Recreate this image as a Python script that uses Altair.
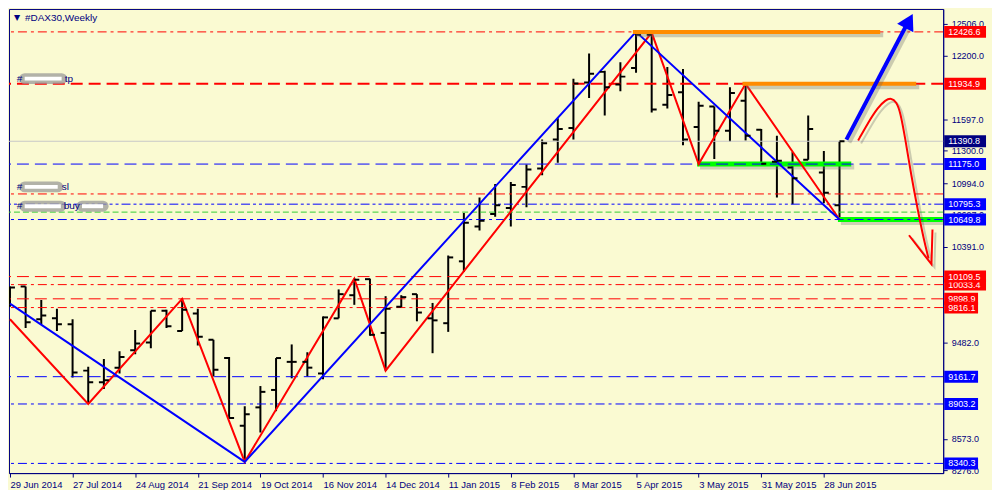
import json
import altair as alt
import pandas as pd

# ---------------- data ----------------
TICK_LABELS = ["29 Jun 2014", "27 Jul 2014", "24 Aug 2014", "21 Sep 2014", "19 Oct 2014",
               "16 Nov 2014", "14 Dec 2014", "11 Jan 2015", "8 Feb 2015", "8 Mar 2015",
               "5 Apr 2015", "3 May 2015", "31 May 2015", "28 Jun 2015"]

OPEN = [9897, 10016, 9705, 9714, 9659, 9219, 9109, 9247, 9412, 9485,
        9787, 9595, 9759, 9512, 9338, 8697, 8871, 9036, 9302, 9302,
        9192, 9714, 9933, 10085, 9576, 9824, 9943, 9714, 9668, 10254,
        10584, 10703, 10758, 10959, 11133, 11408, 11517, 11948, 12048, 11929,
        12085, 12400, 11737, 11856, 11527, 11719, 11490, 11774, 11499, 11197,
        11142, 11215, 11096, 10785]
HIGH = [10016, 10016, 9888, 9805, 9705, 9256, 9329, 9402, 9604, 9787,
        9796, 9898.9, 9805, 9512, 9347, 8881, 9073, 9338, 9467, 9393,
        9732, 9988, 10090, 10090, 9924, 9933, 9943, 9860, 10309, 10712,
        10858, 10986, 11005, 11170, 11408, 11609, 11984, 12222, 12058, 12140,
        12426.6, 12420, 12094, 12076, 11765, 11719, 11902, 11934.9, 11508, 11444,
        11289, 11636, 11298, 11390.8]
LOW = [9823, 9622, 9659, 9595, 9155, 8903.2, 9045, 9192, 9375, 9430,
       9622, 9595, 9457, 9164, 8771, 8355, 8633, 8835, 9146, 9164,
       9137, 9714, 9842, 9549, 9219, 9814, 9686, 9384, 9586, 10153,
       10547, 10675, 10584, 10767, 11069, 11188, 11408, 11801, 11636, 11865,
       12039, 11664, 11701, 11353, 11175, 11224, 11389, 11398, 11160, 10858,
       10794, 11215, 10803, 10649.8]
CLOSE = [10007, 9677, 9741, 9659, 9201, 9109, 9128, 9347, 9476, 9787,
         9640, 9796, 9540, 9228, 8771, 8807, 9018, 9338, 9302, 9247,
         9723, 9943, 10080, 9558, 9805, 9915, 9769, 9695, 10291, 10620,
         10638, 10785, 10977, 11124, 11371, 11508, 11939, 12030, 11902, 12003,
         12400, 11691, 11829, 11408, 11728, 11490, 11847, 11444, 11179, 11206,
         11041, 11508, 10904, 11390.8]

RED_ZZ_WEEK = [0, 5, 11, 15, 22, 24, 41, 44, 47, 53]
RED_ZZ_PRICE = [9705, 8903.2, 9898.9, 8355, 10090, 9219, 12420, 11175, 11934.9, 10649.8]
BLUE_ZZ_WEEK = [0, 15, 40, 53]
BLUE_ZZ_PRICE = [9854, 8355, 12426.6, 10649.8]

LEVEL_PRICES = [12426.6, 11934.9, 11175.0, 10892.0, 10795.3, 10720.0, 10649.8,
                10109.5, 10033.4, 9898.9, 9816.1, 9161.7, 8903.2, 8340.3]
LEVEL_KIND = ["red_dashdot", "red_dash_thick", "blue_dash", "red_dashdot", "blue_dashdotdot",
              "green_dash", "blue_dashdot", "red_dash", "red_dashdot", "red_dash",
              "red_dashdot", "blue_dash", "blue_dashdot", "blue_dashdot"]
BID = 11390.8

TAG_PRICES = [12426.6, 11934.9, 11390.8, 11175.0, 10795.3, 10649.8, 10033.4, 10109.5,
              9898.9, 9816.1, 9161.7, 8903.2, 8340.3]
TAG_KIND = ["red", "red", "navy", "blue", "blue", "blue", "red", "red",
            "red", "red", "blue", "blue", "blue"]

# axis ticks that are not hidden under the price tags
Y_TICKS = [12506.0, 12200.0, 11597.0, 11300.0, 10994.0, 10697.0, 10391.0,
           9482.0, 8573.0, 8276.0]

ORANGE_PRICE = [12426.6, 11934.9]
ORANGE_FROM = [39.8, 46.8]
ORANGE_TO = [55.6, 57.9]
GREEN_PRICE = [11175.0, 10649.8]
GREEN_FROM = [43.9, 52.9]
GREEN_TO = [53.75, 59.6]

BLUE_ARROW_WEEK = [53.44, 57.3]
BLUE_ARROW_PRICE = [11407, 12497]
RED_CURVE_WEEK = [54.19, 54.81, 55.44, 55.94, 56.31, 56.63, 56.88, 57.19, 57.56, 58.0, 58.38, 58.69]
RED_CURVE_PRICE = [11398, 11563, 11710, 11783, 11801, 11765, 11673, 11426, 11087, 10739, 10465, 10281]
RED_HEAD_WEEK = [57.44, 58.875, 58.94]
RED_HEAD_PRICE = [10501, 10226, 10556]

# ---------------- styling ----------------
W, H = 938, 466
BG = "#FAFAD2"
NAVY = "#000080"
FONT = "Liberation Sans"
XS = alt.Scale(domain=[-0.0625, 59.625], nice=False, zero=False)
YS = alt.Scale(domain=[8248.7, 12643.6], nice=False, zero=False)

label_expr = json.dumps(TICK_LABELS) + "[round(datum.value / 4)]"
XAXIS = alt.Axis(values=list(range(0, 53, 4)), labelExpr=label_expr, orient="bottom",
                 tickSize=4, labelAlign="left", labelPadding=2, labelColor=NAVY,
                 tickColor=NAVY, domainColor=NAVY, labelFont=FONT, labelFontSize=9.5,
                 grid=False, title=None, labelFlush=False, labelOverlap=False)
YAXIS = alt.Axis(orient="right", values=Y_TICKS, format=".1f", tickSize=4, labelPadding=4,
                 labelColor=NAVY, tickColor=NAVY, domainColor=NAVY, labelFont=FONT,
                 labelFontSize=9, grid=False, title=None, labelFlush=False,
                 labelOverlap=False, labelBaseline="middle")

LEVEL_STYLE = {
    "red_dashdot": ("#FF0000", [9, 4, 3, 4], 1),
    "red_dash": ("#FF0000", [12, 6], 1),
    "red_dash_thick": ("#FF0000", [12, 6], 2),
    "blue_dash": ("#0000FF", [12, 6], 1),
    "blue_dashdot": ("#0000FF", [9, 4, 3, 4], 1),
    "blue_dashdotdot": ("#0000FF", [9, 3, 3, 3, 3, 3], 1),
    "green_dash": ("#32CD32", [6, 3], 1),
}
TAG_COLOR = {"red": "#FF0000", "blue": "#0000FF", "navy": "#000080"}


def X(field):
    return alt.X(field, type="quantitative", scale=XS, axis=XAXIS)


def Y(field):
    return alt.Y(field, type="quantitative", scale=YS, axis=YAXIS)


bars = pd.DataFrame({"week": list(range(len(OPEN))), "open": OPEN, "high": HIGH,
                     "low": LOW, "close": CLOSE})

levels = pd.DataFrame({"price": LEVEL_PRICES, "kind": LEVEL_KIND})
levels["color"] = [LEVEL_STYLE[k][0] for k in LEVEL_KIND]
levels["w"] = [LEVEL_STYLE[k][2] for k in LEVEL_KIND]
kinds = list(LEVEL_STYLE.keys())

level_layer = alt.Chart(levels).mark_rule().encode(
    y=Y("price"),
    color=alt.Color("color:N", scale=None),
    strokeWidth=alt.StrokeWidth("w:Q", scale=None),
    strokeDash=alt.StrokeDash("kind:N", scale=alt.Scale(domain=kinds, range=[LEVEL_STYLE[k][1] for k in kinds]), legend=None),
)

bid_layer = alt.Chart(pd.DataFrame({"price": [BID]})).mark_rule(color="#C8C8C8", strokeWidth=1).encode(y=Y("price"))


def seg(p, a, b):
    return pd.DataFrame({"price": p, "a": a, "b": b})


green_shadow = alt.Chart(seg(GREEN_PRICE, GREEN_FROM, GREEN_TO)).mark_rule(
    color="#808080", opacity=0.35, strokeWidth=5, yOffset=3, xOffset=3, x2Offset=3, clip=True).encode(
    x=X("a"), x2="b", y=Y("price"))
green_layer = alt.Chart(seg(GREEN_PRICE, GREEN_FROM, GREEN_TO)).mark_rule(
    color="#00FF00", strokeWidth=5).encode(x=X("a"), x2="b", y=Y("price"))

red_zz = alt.Chart(pd.DataFrame({"week": RED_ZZ_WEEK, "price": RED_ZZ_PRICE})).mark_line(
    color="#FF0000", strokeWidth=2, clip=True).encode(x=X("week"), y=Y("price"))
blue_zz = alt.Chart(pd.DataFrame({"week": BLUE_ZZ_WEEK, "price": BLUE_ZZ_PRICE})).mark_line(
    color="#0000FF", strokeWidth=2, clip=True).encode(x=X("week"), y=Y("price"))

bar_v = alt.Chart(bars).mark_rule(color="black", strokeWidth=2, clip=True).encode(
    x=X("week"), y=Y("low"), y2="high")
bar_o = alt.Chart(bars).mark_rule(color="black", strokeWidth=2, xOffset=-5, x2Offset=0, clip=True).encode(
    x=X("week"), x2="week", y=Y("open"))
bar_c = alt.Chart(bars).mark_rule(color="black", strokeWidth=2, xOffset=0, x2Offset=5, clip=True).encode(
    x=X("week"), x2="week", y=Y("close"))

orange_shadow = alt.Chart(seg(ORANGE_PRICE, ORANGE_FROM, ORANGE_TO)).mark_rule(
    color="#707070", opacity=0.35, strokeWidth=5, yOffset=3, xOffset=3, x2Offset=3).encode(
    x=X("a"), x2="b", y=Y("price"))
orange_layer = alt.Chart(seg(ORANGE_PRICE, ORANGE_FROM, ORANGE_TO)).mark_rule(
    color="#FF8C00", strokeWidth=4).encode(x=X("a"), x2="b", y=Y("price"))

barrow_df = pd.DataFrame({"week": BLUE_ARROW_WEEK, "price": BLUE_ARROW_PRICE})
barrow_shadow = alt.Chart(barrow_df).mark_line(color="#606060", opacity=0.3, strokeWidth=4,
                                               xOffset=3, yOffset=3).encode(x=X("week"), y=Y("price"))
barrow = alt.Chart(barrow_df).mark_line(color="#0000FF", strokeWidth=4).encode(x=X("week"), y=Y("price"))
bhead = alt.Chart(pd.DataFrame({"week": [57.44], "price": [12530]})).mark_point(
    shape="triangle-up", filled=True, size=340, angle=28, color="#0000FF", opacity=1).encode(
    x=X("week"), y=Y("price"))

rcurve_df = pd.DataFrame({"week": RED_CURVE_WEEK, "price": RED_CURVE_PRICE, "o": list(range(len(RED_CURVE_WEEK)))})
rcurve_shadow = alt.Chart(rcurve_df).mark_line(color="#606060", opacity=0.3, strokeWidth=2,
                                               interpolate="basis", xOffset=3, yOffset=3).encode(
    x=X("week"), y=Y("price"), order="o:Q")
rcurve = alt.Chart(rcurve_df).mark_line(color="#FF0000", strokeWidth=2, interpolate="basis").encode(
    x=X("week"), y=Y("price"), order="o:Q")
rhead_df = pd.DataFrame({"week": RED_HEAD_WEEK, "price": RED_HEAD_PRICE, "o": [0, 1, 2]})
rhead_shadow = alt.Chart(rhead_df).mark_line(color="#606060", opacity=0.3, strokeWidth=2,
                                             xOffset=3, yOffset=3).encode(x=X("week"), y=Y("price"), order="o:Q")
rhead = alt.Chart(rhead_df).mark_line(color="#FF0000", strokeWidth=2).encode(
    x=X("week"), y=Y("price"), order="o:Q")

# left-side object labels (text with blurred placeholders)
ann_text = pd.DataFrame({
    "week": [0.44, 3.5, 0.44, 3.31, 0.44, 3.44],
    "price": [11984, 11984, 10959, 10959, 10776, 10776],
    "t": ["#", "tp", "#", "sl", "#", "buy"],
})
ann_box = pd.DataFrame({
    "a": [0.94, 0.94, 0.94, 4.6],
    "b": [3.3, 3.05, 3.25, 5.95],
    "price": [11984, 10959, 10776, 10776],
})
box_gray = alt.Chart(ann_box).mark_rule(color="#9A9A9A", opacity=0.75, strokeWidth=11, strokeCap="round").encode(
    x=X("a"), x2="b", y=Y("price"))
box_white = alt.Chart(ann_box).mark_rule(color="#FFFFFF", strokeWidth=4).encode(
    x=X("a"), x2="b", y=Y("price"))
ann = alt.Chart(ann_text).mark_text(align="left", baseline="middle", color=NAVY, font=FONT,
                                    fontSize=10).encode(x=X("week"), y=Y("price"), text="t:N")

title_tri = alt.Chart(pd.DataFrame({"t": ["▼"]})).mark_text(
    align="left", baseline="middle", color=NAVY, fontSize=8, font="DejaVu Sans").encode(
    x=alt.value(5), y=alt.value(9), text="t:N")
title_txt = alt.Chart(pd.DataFrame({"t": ["#DAX30,Weekly"]})).mark_text(
    align="left", baseline="middle", color=NAVY, fontSize=10, font=FONT).encode(
    x=alt.value(16), y=alt.value(9), text="t:N")

# price tags on the right axis
tags = pd.DataFrame({"price": TAG_PRICES, "kind": TAG_KIND,
                     "label": [f"{p:.1f}" for p in TAG_PRICES]})
tags["color"] = [TAG_COLOR[k] for k in TAG_KIND]
tags["long"] = tags["label"].str.len() >= 7
tag_layers = []
for i in range(len(tags)):
    row = tags.iloc[[i]]
    bw = 42 if bool(row["long"].iloc[0]) else 34
    tag_layers.append(alt.Chart(row).mark_rule(strokeWidth=12).encode(
        x=alt.value(W + 1), x2=alt.value(W + 1 + bw), y=Y("price"),
        color=alt.Color("color:N", scale=None)))
    tag_layers.append(alt.Chart(row).mark_text(align="left", baseline="middle", color="white",
                                               font=FONT, fontSize=9).encode(
        x=alt.value(W + 5), y=Y("price"), text="label:N"))

chart = alt.layer(
    bar_v, green_shadow, green_layer, level_layer, bid_layer, red_zz, blue_zz,
    bar_o, bar_c, orange_shadow, orange_layer,
    barrow_shadow, barrow, bhead, rcurve_shadow, rcurve, rhead_shadow, rhead,
    box_gray, box_white, ann, title_tri, title_txt, *tag_layers,
).properties(
    width=W, height=H, padding={"left": 0, "top": 0, "right": 0, "bottom": 0}
).configure(background=BG).configure_view(stroke=NAVY, strokeWidth=1, fill=BG)

chart.save("out.html", embed_options={"renderer": "svg", "actions": False})
